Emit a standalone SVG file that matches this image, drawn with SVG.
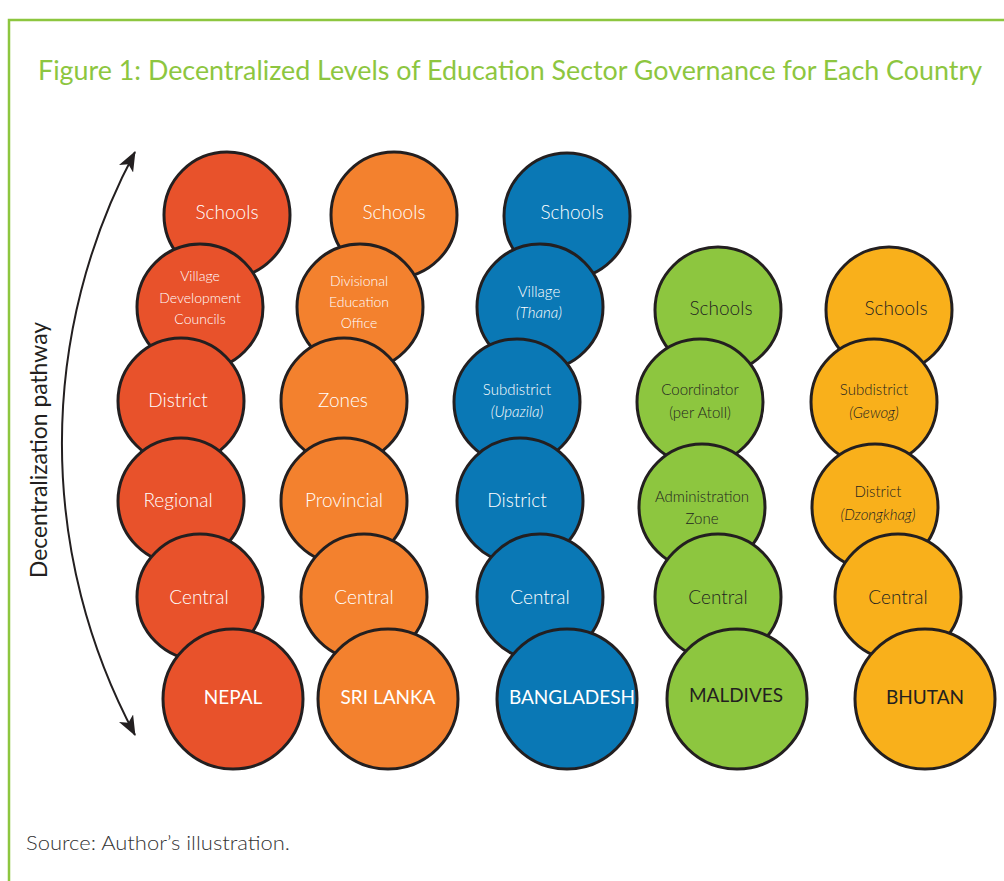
<svg xmlns="http://www.w3.org/2000/svg" width="1004" height="881" viewBox="0 0 1004 881">
<style>
.frame{fill:none;stroke:#8DC63F;stroke-width:2.5}
.c{stroke:#231F20;stroke-width:3}
.np{fill:#E8522B}.sl{fill:#F3812E}.bd{fill:#0A78B5}.md{fill:#8DC63F}.bt{fill:#F9B01B}
text{font-family:Lato,"Open Sans","Liberation Sans",sans-serif;text-anchor:middle;font-weight:300}
.w{fill:#FFFFFF}.d{fill:#231F20}
.l1{font-size:19px}.l2{font-size:15px}.l3{font-size:14px}.cn{font-size:19px;font-weight:400}
</style>
<defs>
<marker id="ah" viewBox="0 0 20 16" refX="19" refY="8" markerWidth="20" markerHeight="16" markerUnits="userSpaceOnUse" orient="auto-start-reverse">
<path d="M0,0 L20,8 L0,16 L5,8 z" fill="#231F20"/>
</marker>
</defs>
<rect width="1004" height="881" fill="#FFFFFF"/>
<path class="frame" d="M9,881 V20 H1004"/>
<text x="510" y="80" style="font-size:26px;fill:#8DC63F;font-weight:400" textLength="944" lengthAdjust="spacingAndGlyphs">Figure 1: Decentralized Levels of Education Sector Governance for Each Country</text>
<g id="connectors">
<path d="M135,152 A618,618 0 0 0 135,735" fill="none" stroke="#231F20" stroke-width="2" marker-start="url(#ah)" marker-end="url(#ah)"/>
</g>
<text transform="translate(47,450) rotate(-90)" style="font-size:23px;fill:#231F20;font-weight:400" textLength="256" lengthAdjust="spacingAndGlyphs">Decentralization pathway</text>

<g id="nepal">
<g id="np-schools"><circle class="c np" cx="227" cy="215" r="63"/><text class="w l1" x="227" y="219">Schools</text></g>
<g id="np-vdc"><circle class="c np" cx="200" cy="307" r="63"/><text class="w l3" x="200" y="281">Village</text><text class="w l3" x="200" y="303">Development</text><text class="w l3" x="200" y="324">Councils</text></g>
<g id="np-district"><circle class="c np" cx="181" cy="401" r="63"/><text class="w l1" x="178" y="407">District</text></g>
<g id="np-regional"><circle class="c np" cx="181" cy="501" r="63"/><text class="w l1" x="178" y="507">Regional</text></g>
<g id="np-central"><circle class="c np" cx="200" cy="597" r="63"/><text class="w l1" x="199" y="604">Central</text></g>
<g id="np-country"><circle class="c np" cx="233" cy="699" r="70"/><text class="w cn" x="233" y="704">NEPAL</text></g>
</g>

<g id="srilanka">
<g id="sl-schools"><circle class="c sl" cx="394" cy="215" r="63"/><text class="w l1" x="394" y="219">Schools</text></g>
<g id="sl-div"><circle class="c sl" cx="360" cy="307" r="63"/><text class="w l3" x="359" y="286">Divisional</text><text class="w l3" x="359" y="307">Education</text><text class="w l3" x="359" y="328">Office</text></g>
<g id="sl-zones"><circle class="c sl" cx="344" cy="401" r="63"/><text class="w l1" x="343" y="407">Zones</text></g>
<g id="sl-prov"><circle class="c sl" cx="344" cy="501" r="63"/><text class="w l1" x="344" y="507">Provincial</text></g>
<g id="sl-central"><circle class="c sl" cx="364" cy="597" r="63"/><text class="w l1" x="364" y="604">Central</text></g>
<g id="sl-country"><circle class="c sl" cx="388" cy="699" r="70"/><text class="w cn" x="388" y="704">SRI LANKA</text></g>
</g>

<g id="bangladesh">
<g id="bd-schools"><circle class="c bd" cx="567" cy="216" r="63"/><text class="w l1" x="572" y="219">Schools</text></g>
<g id="bd-village"><circle class="c bd" cx="540" cy="307" r="63"/><text class="w l2" x="539" y="297">Village</text><text class="w l2" x="539" y="318" font-style="italic">(Thana)</text></g>
<g id="bd-sub"><circle class="c bd" cx="517" cy="402" r="63"/><text class="w l2" x="517" y="395">Subdistrict</text><text class="w l2" x="517" y="417" font-style="italic">(Upazila)</text></g>
<g id="bd-district"><circle class="c bd" cx="520" cy="501" r="63"/><text class="w l1" x="517" y="507">District</text></g>
<g id="bd-central"><circle class="c bd" cx="540" cy="597" r="63"/><text class="w l1" x="540" y="604">Central</text></g>
<g id="bd-country"><circle class="c bd" cx="567" cy="699" r="70"/><text class="w cn" x="572" y="704">BANGLADESH</text></g>
</g>

<g id="maldives">
<g id="md-schools"><circle class="c md" cx="718" cy="310" r="63"/><text class="d l1" x="721" y="315">Schools</text></g>
<g id="md-coord"><circle class="c md" cx="700" cy="402" r="63"/><text class="d l2" x="700" y="395">Coordinator</text><text class="d l2" x="700" y="418">(per Atoll)</text></g>
<g id="md-admin"><circle class="c md" cx="702" cy="507" r="63"/><text class="d l2" x="702" y="502">Administration</text><text class="d l2" x="702" y="524">Zone</text></g>
<g id="md-central"><circle class="c md" cx="718" cy="597" r="63"/><text class="d l1" x="718" y="604">Central</text></g>
<g id="md-country"><circle class="c md" cx="737" cy="699" r="70"/><text class="d cn" x="736" y="702">MALDIVES</text></g>
</g>

<g id="bhutan">
<g id="bt-schools"><circle class="c bt" cx="889" cy="310" r="63"/><text class="d l1" x="896" y="315">Schools</text></g>
<g id="bt-sub"><circle class="c bt" cx="874" cy="402" r="63"/><text class="d l2" x="874" y="395">Subdistrict</text><text class="d l2" x="874" y="418" font-style="italic">(Gewog)</text></g>
<g id="bt-district"><circle class="c bt" cx="875" cy="507" r="63"/><text class="d l2" x="878" y="497">District</text><text class="d l2" x="878" y="520" font-style="italic">(Dzongkhag)</text></g>
<g id="bt-central"><circle class="c bt" cx="898" cy="597" r="63"/><text class="d l1" x="898" y="604">Central</text></g>
<g id="bt-country"><circle class="c bt" cx="925" cy="699" r="70"/><text class="d cn" x="925" y="704">BHUTAN</text></g>
</g>

<text x="26" y="850" style="font-size:20px;fill:#333333;text-anchor:start" textLength="264" lengthAdjust="spacingAndGlyphs">Source: Author’s illustration.</text>
</svg>
